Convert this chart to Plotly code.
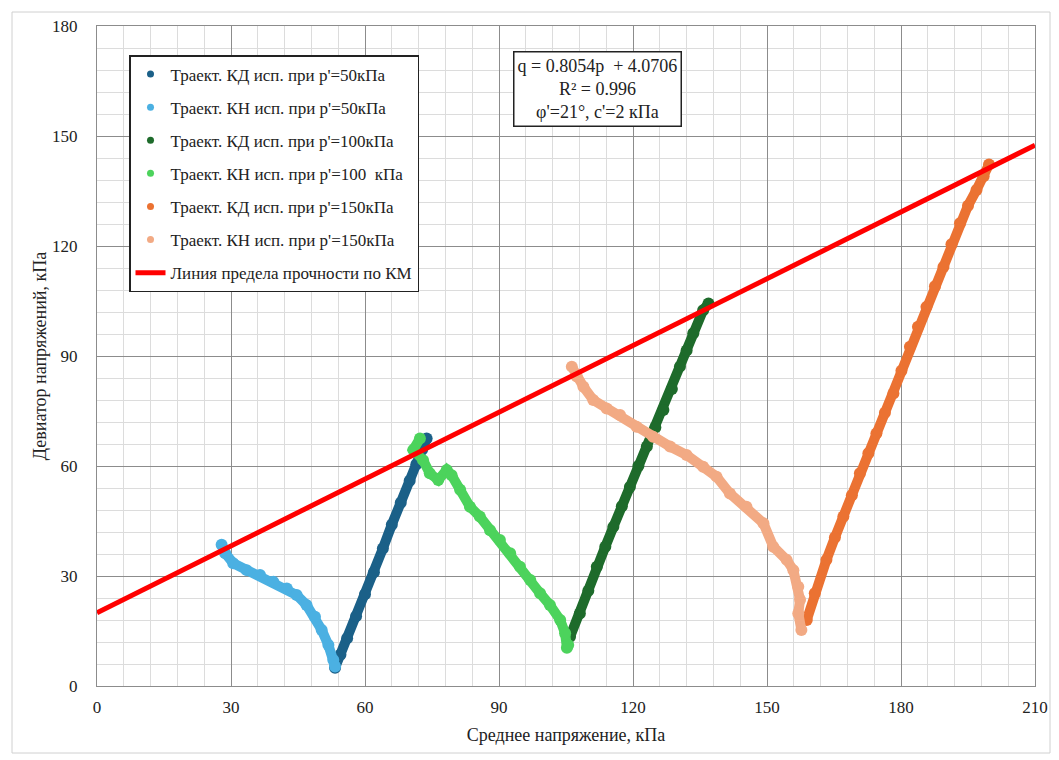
import plotly.graph_objects as go

# ---- data ----
kd50_p = [53.3, 54.5, 56.0, 58.0, 60.0, 62.0, 64.0, 66.0, 68.0, 70.0, 71.5, 72.8, 73.8]
kd50_q = [5.0, 8.5, 13.0, 19.0, 25.0, 31.0, 37.5, 44.0, 50.0, 56.0, 60.5, 64.5, 67.5]

kn50_p = [27.9, 28.7, 30.5, 33.5, 36.5, 39.5, 42.5, 44.7, 46.9, 48.8, 50.3, 51.8, 52.9, 53.3]
kn50_q = [38.5, 36.2, 33.5, 31.6, 30.3, 28.4, 26.6, 24.8, 22.1, 18.9, 15.3, 11.2, 7.1, 5.3]

kd100_p = [105.9, 108.1, 110.0, 111.9, 113.8, 115.6, 117.5, 119.3, 121.2, 123.1, 125.0, 126.8, 128.7, 130.5, 132.0, 133.5, 135.7, 136.9]
kd100_q = [13.4, 19.8, 26.0, 32.5, 38.0, 43.4, 49.0, 54.3, 60.0, 65.3, 70.5, 75.3, 81.0, 87.1, 91.5, 96.2, 102.5, 104.3]

kn100_p = [72.3, 70.8, 73.0, 74.5, 76.4, 78.3, 79.4, 81.3, 83.5, 85.7, 88.0, 90.2, 92.5, 94.7, 97.0, 99.2, 101.4, 103.7, 104.8, 105.5, 105.2]
kn100_q = [67.5, 64.4, 61.6, 58.0, 56.2, 58.9, 57.5, 53.5, 48.9, 46.2, 42.5, 39.8, 36.2, 32.5, 28.9, 25.3, 22.1, 18.0, 14.4, 11.2, 10.4]

kd150_p = [158.9, 160.7, 163.3, 165.2, 167.1, 169.0, 170.8, 172.7, 174.5, 176.4, 178.3, 180.1, 182.0, 183.8, 185.7, 187.6, 189.5, 191.3, 193.2, 195.0, 196.9, 198.5, 199.7]
kd150_q = [18.0, 25.3, 34.4, 40.5, 46.2, 52.0, 58.0, 63.5, 68.9, 74.5, 79.8, 86.0, 92.5, 98.0, 103.4, 109.0, 114.3, 120.5, 126.2, 131.0, 135.3, 139.0, 142.2]

kn150_p = [106.3, 107.4, 108.9, 111.1, 114.1, 117.1, 120.8, 124.5, 128.3, 132.0, 135.7, 138.7, 141.7, 145.4, 149.2, 151.4, 154.4, 155.9, 157.0, 157.4, 157.0, 157.7]
kn150_q = [87.1, 84.4, 81.6, 78.0, 75.7, 73.9, 70.7, 68.0, 65.3, 63.0, 59.8, 57.1, 52.5, 48.9, 44.4, 38.0, 34.4, 31.6, 27.1, 23.5, 19.8, 15.3]

km_p = [0, 210]
km_q = [20.0, 147.5]

names = [
    "Траект. КД исп. при p'=50кПа",
    "Траект. КН исп. при p'=50кПа",
    "Траект. КД исп. при p'=100кПа",
    "Траект. КН исп. при p'=100\u00a0 кПа",
    "Траект. КД исп. при p'=150кПа",
    "Траект. КН исп. при p'=150кПа",
]
line_name = "Линия предела прочности по КМ"
colors = ["#1B6088", "#4BB0E2", "#1E6B2B", "#4CD35C", "#EB7232", "#F2AA84"]

x_ticks = [0, 30, 60, 90, 120, 150, 180, 210]
y_ticks = [0, 30, 60, 90, 120, 150, 180]

series = [(kd50_p, kd50_q), (kn50_p, kn50_q), (kd100_p, kd100_q),
          (kn100_p, kn100_q), (kd150_p, kd150_q), (kn150_p, kn150_q)]

FONT = "'Liberation Serif', 'Times New Roman', serif"
fig = go.Figure()

for i, ((px, qy), nm, c) in enumerate(zip(series, names, colors)):
    fig.add_trace(go.Scatter(
        x=px, y=qy, mode="lines+markers", showlegend=False,
        legendgroup=f"g{i}",
        line=dict(color=c, width=10, shape="linear"),
        marker=dict(color=c, size=12),
        hoverinfo="x+y", name=nm))
    fig.add_trace(go.Scatter(
        x=[None], y=[None], mode="markers", name=nm, legendgroup=f"g{i}",
        marker=dict(color=c, size=7)))

fig.add_trace(go.Scatter(
    x=km_p, y=km_q, mode="lines", name=line_name, legendgroup="g6",
    line=dict(color="#FF0000", width=5)))

grid_major = "#8c8c8c"
grid_minor = "#dcdcdc"

fig.update_layout(
    width=1059, height=760,
    margin=dict(l=97, r=24, t=26, b=74),
    paper_bgcolor="white", plot_bgcolor="white",
    font=dict(family=FONT, size=16, color="#222222"),
    showlegend=True,
    legend=dict(
        x=(129 - 97) / 938, y=(686 - 55) / 660, xanchor="left", yanchor="top",
        bgcolor="white", bordercolor="#222222", borderwidth=1.5,
        font=dict(family=FONT, size=17, color="#222222"),
        traceorder="grouped", tracegroupgap=8, itemwidth=30,
    ),
    xaxis=dict(
        range=[0, 210], tickvals=x_ticks, ticks="", ticklabelstandoff=6,
        showgrid=True, gridcolor=grid_major, gridwidth=1,
        minor=dict(dtick=6, showgrid=True, gridcolor=grid_minor, gridwidth=1),
        showline=True, linecolor="#8c8c8c", linewidth=1, mirror=True,
        zeroline=False, tickfont=dict(family=FONT, size=17),
        title=dict(text="Среднее напряжение, кПа", font=dict(family=FONT, size=18), standoff=11),
    ),
    yaxis=dict(
        range=[0, 180], tickvals=y_ticks, ticks="", ticklabelstandoff=15,
        showgrid=True, gridcolor=grid_major, gridwidth=1,
        minor=dict(dtick=6, showgrid=True, gridcolor=grid_minor, gridwidth=1),
        showline=True, linecolor="#8c8c8c", linewidth=1, mirror=True,
        zeroline=False, tickfont=dict(family=FONT, size=17),
        title=dict(text="Девиатор напряжений, кПа", font=dict(family=FONT, size=18), standoff=0),
    ),
    annotations=[dict(
        xref="paper", yref="paper", x=(597 - 97) / 938, y=(686 - 89) / 660,
        xanchor="center", yanchor="middle", showarrow=False,
        text="q = 0.8054p  + 4.0706<br>R² = 0.996<br>φ'=21°, c'=2 кПа",
        font=dict(family=FONT, size=18, color="#222222"),
        bgcolor="white", bordercolor="#222222", borderwidth=1.5, borderpad=3,
    )],
    shapes=[dict(
        type="rect", xref="paper", yref="paper",
        x0=(12 - 97) / 938, x1=(1050 - 97) / 938,
        y0=(686 - 753) / 660, y1=(686 - 12) / 660,
        line=dict(color="#d0d0d0", width=1), layer="below")],
)

fig.write_html("out.html")
